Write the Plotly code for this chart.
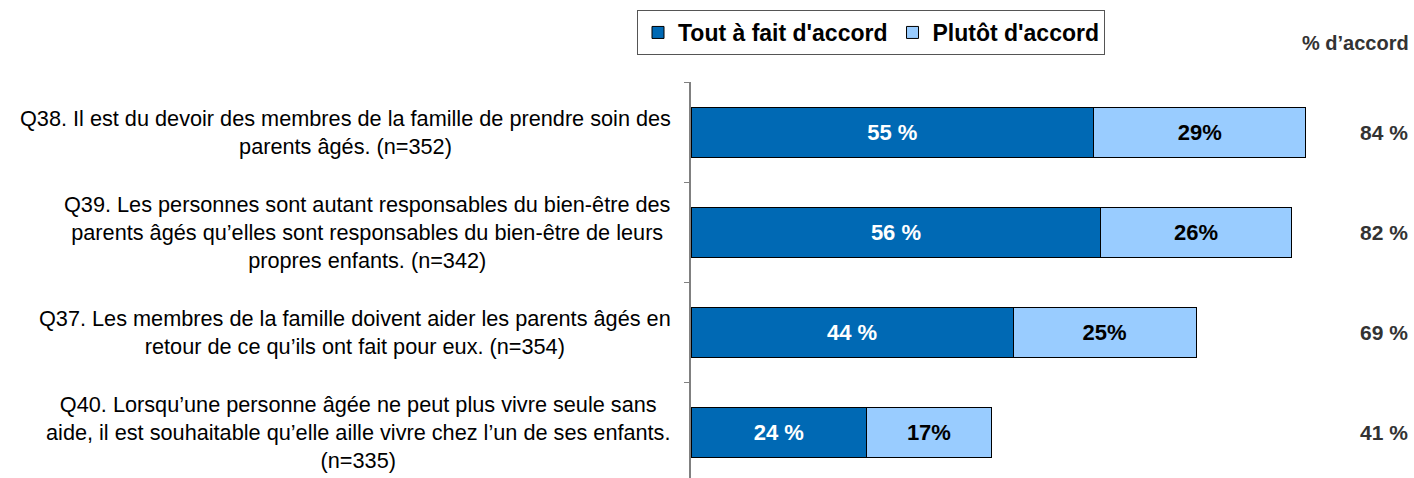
import plotly.graph_objects as go

# ---- data ----
cat_ids = ["Q38", "Q39", "Q37", "Q40"]
cat_labels = [
    "Q38. Il est du devoir des membres de la famille de prendre soin des<br>parents âgés. (n=352)",
    "Q39. Les personnes sont autant responsables du bien-être des<br>parents âgés qu’elles sont responsables du bien-être de leurs<br>propres enfants. (n=342)",
    "Q37. Les membres de la famille doivent aider les parents âgés en<br>retour de ce qu’ils ont fait pour eux. (n=354)",
    "Q40. Lorsqu’une personne âgée ne peut plus vivre seule sans<br>aide, il est souhaitable qu’elle aille vivre chez l’un de ses enfants.<br>(n=335)",
]
tout_a_fait = [55, 56, 44, 24]
plutot = [29, 26, 25, 17]
totals = [84, 82, 69, 41]
series_names = ["Tout à fait d'accord", "Plutôt d'accord"]
total_header = "% d’accord"

# ---- style ----
W, H = 1414, 478
ML, MT = 691, 82
PX_PER_PCT = 7.32
FONT = "Liberation Sans, Arial, sans-serif"
DARK = "#0069B4"
LIGHT = "#99CCFF"

fig = go.Figure()
fig.add_trace(go.Bar(
    y=cat_ids, x=tout_a_fait, orientation="h", name=series_names[0],
    marker=dict(color=DARK, line=dict(color="#000000", width=1)),
    width=0.5,
    text=[f"{v} %" for v in tout_a_fait], textposition="inside",
    insidetextanchor="middle", constraintext="none",
    textfont=dict(family=FONT, size=22, color="white", weight="bold"),
    hoverinfo="skip",
))
fig.add_trace(go.Bar(
    y=cat_ids, x=plutot, orientation="h", name=series_names[1],
    marker=dict(color=LIGHT, line=dict(color="#000000", width=1)),
    width=0.5,
    text=[f"{v}%" for v in plutot], textposition="inside",
    insidetextanchor="middle", constraintext="none",
    textfont=dict(family=FONT, size=22, color="black", weight="bold"),
    hoverinfo="skip",
))

plot_w = W - ML
plot_h = H - MT
x_max = plot_w / PX_PER_PCT
y_bottom = -0.5 + plot_h / 100.0

annotations = []
for cid, lab in zip(cat_ids, cat_labels):
    annotations.append(dict(
        xref="paper", yref="y", x=0, y=cid, xanchor="right", yanchor="middle",
        xshift=-18, text=lab, align="center", showarrow=False,
        font=dict(family=FONT, size=21.7, color="#000000"),
    ))
for cid, t in zip(cat_ids, totals):
    annotations.append(dict(
        xref="paper", yref="y", x=(1384 - ML) / plot_w, y=cid, xanchor="center",
        yanchor="middle", text=f"{t} %", showarrow=False,
        font=dict(family=FONT, size=21, color="#333333", weight="bold"),
    ))
annotations.append(dict(
    xref="paper", yref="paper", x=(1411 - ML) / plot_w, y=1 + (MT - 43) / plot_h,
    xanchor="right", yanchor="middle", text=total_header, showarrow=False,
    font=dict(family=FONT, size=20, color="#333333", weight="bold"),
))

fig.update_layout(
    width=W, height=H,
    margin=dict(l=ML, r=0, t=MT, b=0, pad=0),
    barmode="stack",
    plot_bgcolor="white", paper_bgcolor="white",
    showlegend=True,
    legend=dict(
        orientation="h", xref="container", yref="container",
        x=637 / W, y=1 - 10 / H, xanchor="left", yanchor="top",
        bgcolor="white", bordercolor="#555555", borderwidth=1,
        font=dict(family=FONT, size=23, color="#000000", weight="bold"),
        traceorder="normal", itemwidth=30,
    ),
    xaxis=dict(range=[0, x_max], visible=False, fixedrange=True),
    yaxis=dict(
        type="category", categoryorder="array", categoryarray=cat_ids,
        range=[y_bottom, -0.5], showline=True, linecolor="#808080", linewidth=2,
        ticks="outside", tickson="boundaries", ticklen=5, tickcolor="#808080",
        tickwidth=1, showticklabels=False, showgrid=False, zeroline=False,
        automargin=False, fixedrange=True,
    ),
    annotations=annotations,
    font=dict(family=FONT),
)

fig.write_html(
    "out.html",
    config={"displayModeBar": False},
    post_script="document.body.style.margin='0';document.body.style.overflow='hidden';",
)
